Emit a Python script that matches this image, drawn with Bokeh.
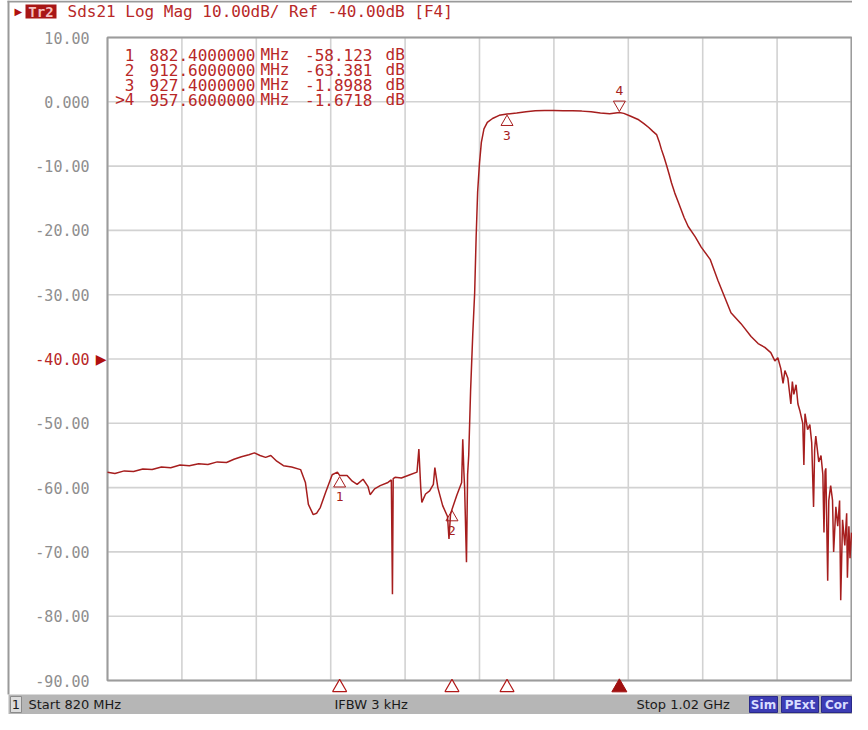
import math
from bokeh.plotting import figure
from bokeh.models import Range1d, ColumnDataSource
from bokeh.core.properties import value
from bokeh.embed import file_html
from bokeh.resources import INLINE

# ---------------- data ----------------
freq_mhz = [
    820.0, 822.0, 824.5, 827.0, 829.5, 832.0, 834.5, 837.0, 839.5, 842.0,
    844.5, 847.0, 849.5, 852.0, 854.0, 856.0, 858.0, 859.5, 861.0, 862.5,
    863.9, 865.5, 867.3, 869.5, 871.9, 873.2, 874.0, 875.3, 876.2, 877.2,
    878.6, 880.4, 881.8, 882.4, 884.4, 885.8, 887.1, 888.7, 890.0, 890.6,
    891.8, 893.3, 895.4, 896.3, 896.6, 896.8, 897.3, 899.0, 901.3, 903.2,
    903.7, 904.2, 904.5, 905.5, 906.6, 907.6, 908.0, 908.8, 910.1, 911.4,
    911.8, 912.2, 912.6, 913.9, 915.2, 915.5, 915.8, 916.0, 916.5, 916.8,
    917.1, 917.6, 918.2, 918.7, 919.1, 919.5, 920.0, 920.5, 921.2, 922.1,
    923.5, 925.3, 927.4, 930.0, 932.5, 935.0, 937.5, 940.0, 942.5, 945.0,
    947.5, 950.0, 952.5, 955.0, 957.6, 958.8, 960.5, 962.8, 964.2, 965.5,
    966.6, 967.6, 968.3, 968.9, 969.6, 970.3, 971.0, 971.6, 972.5, 973.5,
    975.0, 976.1, 978.0, 979.6, 982.0, 984.1, 986.0, 987.6, 990.3, 993.0,
    994.9, 996.7, 998.3, 999.4, 1000.2, 1001.0, 1001.6, 1002.1, 1002.9, 1003.7,
    1004.1, 1004.5, 1005.1, 1005.6, 1006.1, 1006.9, 1007.2, 1007.5, 1008.2, 1008.8,
    1009.3, 1009.8, 1010.1, 1010.4, 1011.2, 1011.8, 1012.3, 1012.6, 1012.9, 1013.1,
    1013.6, 1013.9, 1014.4, 1014.9, 1015.2, 1015.8, 1016.3, 1016.8, 1017.1, 1017.6,
    1018.2, 1018.7, 1018.9, 1019.3, 1019.6, 1020.0,
]
s21_db = [
    -57.6, -57.8, -57.4, -57.5, -57.1, -57.2, -56.8, -56.9, -56.5, -56.6,
    -56.3, -56.4, -56.0, -56.1, -55.6, -55.2, -54.9, -54.6, -55.0, -55.3,
    -55.0, -55.9, -56.6, -56.8, -57.2, -59.2, -62.6, -64.2, -64.0, -63.1,
    -60.8, -58.0, -57.6, -58.1, -58.1, -59.0, -59.5, -58.7, -59.8, -61.1,
    -60.2, -59.7, -59.2, -58.8, -76.6, -58.6, -58.4, -58.5, -58.0, -57.6,
    -54.0, -60.0, -62.3, -61.0, -60.5, -59.5, -56.9, -60.0, -62.8, -64.5,
    -68.0, -64.2, -63.4, -61.2, -59.2, -52.5, -57.5, -60.0, -71.6, -58.0,
    -55.0, -45.0, -36.0, -29.7, -21.0, -14.0, -9.5, -6.3, -4.2, -3.2,
    -2.6, -2.1, -1.90, -1.75, -1.55, -1.40, -1.35, -1.35, -1.40, -1.40,
    -1.45, -1.55, -1.75, -1.85, -1.67, -1.8, -2.2, -2.8, -3.4, -4.0,
    -4.6, -5.1, -6.2, -7.4, -8.6, -9.9, -11.3, -12.6, -14.2, -15.7,
    -18.0, -19.4, -21.0, -22.6, -24.5, -27.8, -30.5, -32.8, -34.5, -36.5,
    -37.6, -38.2, -39.0, -40.3, -39.8, -41.5, -43.8, -41.8, -43.0, -47.0,
    -43.5, -45.5, -44.0, -47.0, -48.0, -50.0, -56.5, -48.5, -51.0, -50.2,
    -53.0, -63.0, -54.0, -52.0, -56.0, -55.0, -58.0, -67.0, -57.5, -57.0,
    -74.5, -62.0, -59.7, -62.0, -70.0, -63.0, -66.0, -62.0, -77.5, -65.0,
    -69.0, -64.0, -74.0, -66.0, -71.0, -67.0,
]

marker_ids = ["1", "2", "3", "4"]
marker_freq = [882.4, 912.6, 927.4, 957.6]
marker_db = [-58.123, -63.381, -1.8988, -1.6718]
active_marker = "4"

y_ticks = [10, 0, -10, -20, -30, -40, -50, -60, -70, -80, -90]
y_tick_labels = ["10.00", "0.000", "-10.00", "-20.00", "-30.00", "-40.00",
                 "-50.00", "-60.00", "-70.00", "-80.00", "-90.00"]
x_grid_ticks = [820, 840, 860, 880, 900, 920, 940, 960, 980, 1000, 1020]
ref_level = -40

trace_name = "Tr2"
header_text = "Sds21 Log Mag 10.00dB/ Ref -40.00dB [F4]"
status_channel = "1"
status_start = "Start 820 MHz"
status_ifbw = "IFBW 3 kHz"
status_stop = "Stop 1.02 GHz"
status_badges = ["Sim", "PExt", "Cor"]

# ---------------- layout (pixel geometry of the analyser screen) ----------------
W, H = 852, 714
FL, FR, FT, FB = 107, 851, 37, 680          # graticule box in canvas pixels
X0, X1 = x_grid_ticks[0], x_grid_ticks[-1]
Y0, Y1 = y_ticks[-1], y_ticks[0]


def xd(px):
    return X0 + (px - FL) * (X1 - X0) / (FR - FL)


def yd(py):
    return Y1 - (py - FT) * (Y1 - Y0) / (FB - FT)


PX_PER_DB = (FB - FT) / (Y1 - Y0)

RED = "#a61e1e"
TXT_RED = "#b82828"
GRID = "#d2d2d2"
BORDER = "#9c9c9c"
MONO = "DejaVu Sans Mono"
SANS = "DejaVu Sans"

p = figure(width=W, height=H, x_range=Range1d(xd(0), xd(W)), y_range=Range1d(yd(H), yd(0)),
           output_backend="svg", toolbar_location=None,
           x_axis_location=None, y_axis_location=None,
           min_border_left=0, min_border_right=0, min_border_top=0, min_border_bottom=0,
           background_fill_color="white", border_fill_color="white")
p.outline_line_color = None
p.xgrid.visible = False
p.ygrid.visible = False


def text(x, y, t, size, color, font=MONO, align="left", baseline="middle", style="normal",
         x_offset=0, y_offset=0):
    p.text(x=[x], y=[y], text=[t], text_font=value(font), text_font_size=value(size),
           text_color=color, text_align=align, text_baseline=baseline,
           text_font_style=style, x_offset=x_offset, y_offset=y_offset)


def box(px0, px1, py0, py1, fill, line=None, lw=1):
    p.quad(left=[xd(px0)], right=[xd(px1)], top=[yd(py0)], bottom=[yd(py1)],
           fill_color=fill, line_color=line, line_width=lw)


# ---------------- graticule ----------------
p.segment(x0=x_grid_ticks, x1=x_grid_ticks, y0=[Y0] * len(x_grid_ticks), y1=[Y1] * len(x_grid_ticks),
          line_color=GRID, line_width=1.6)
p.segment(x0=[X0] * len(y_ticks), x1=[X1] * len(y_ticks), y0=y_ticks, y1=y_ticks,
          line_color=GRID, line_width=1.6)
p.quad(left=[X0], right=[X1], top=[Y1], bottom=[Y0], fill_alpha=0,
       line_color=BORDER, line_width=2)

# y tick labels (reference level in red)
tick_src = ColumnDataSource(dict(
    x=[X0] * len(y_ticks), y=y_ticks, t=y_tick_labels,
    c=[TXT_RED if t == ref_level else "#8e8e8e" for t in y_ticks]))
p.text("x", "y", text="t", source=tick_src, text_color="c", x_offset=-18,
       text_align="right", text_baseline="middle", text_font=value(MONO),
       text_font_size=value("15px"))
text(X0, ref_level, "\u25b6", "14px", "#b01010", font=SANS, align="right", x_offset=-1)

# ---------------- trace ----------------
p.line(freq_mhz, s21_db, line_color=RED, line_width=1.5)

# markers on trace
others = [i for i, m in enumerate(marker_ids) if m != active_marker]
up_src = ColumnDataSource(dict(
    x=[marker_freq[i] for i in others],
    y=[marker_db[i] for i in others],
    ty=[marker_db[i] - 8 / PX_PER_DB for i in others],
    t=[marker_ids[i] for i in others]))
p.scatter("x", "ty", source=up_src, marker="triangle", size=12, fill_alpha=0,
          line_color=RED, line_width=1)
p.text("x", "y", text="t", source=up_src, y_offset=21, text_align="center",
       text_baseline="middle", text_font=value(MONO), text_font_size=value("13px"), text_color=RED)

ai = marker_ids.index(active_marker)
act_src = ColumnDataSource(dict(x=[marker_freq[ai]], y=[marker_db[ai]],
                                ty=[marker_db[ai] + 8 / PX_PER_DB], t=[active_marker]))
p.scatter("x", "ty", source=act_src, marker="inverted_triangle", size=12, fill_alpha=0,
          line_color=RED, line_width=1)
p.text("x", "y", text="t", source=act_src, y_offset=-22, text_align="center",
       text_baseline="middle", text_font=value(MONO), text_font_size=value("13px"), text_color=RED)

# marker readout table
row_py = [54, 69, 84, 99]
for i, (m, f, v) in enumerate(zip(marker_ids, marker_freq, marker_db)):
    y = yd(row_py[i])
    mid = (">" + m) if m == active_marker else m
    vs = f"{v:.3f}" if abs(v) >= 10 else f"{v:.4f}"
    for txt, px, al in ((mid, 134, "right"), (f"{f:.7f}", 255, "right"), ("MHz", 260, "left"),
                        (vs, 372, "right"), ("dB", 385, "left")):
        text(xd(px), y, txt, "16px", TXT_RED, align=al)

# marker position indicators below the graticule
ind_y = yd(687)
p.scatter(x=[marker_freq[i] for i in others], y=[ind_y] * len(others), marker="triangle",
          size=14, fill_color="white", line_color="#b01818", line_width=1.2)
p.scatter(x=[marker_freq[ai]], y=[ind_y], marker="triangle", size=15,
          fill_color="#a01010", line_color="#a01010")

# ---------------- window frame & header ----------------
box(7, W, 0, 2, "#9a9a9a")
box(7, 9, 0, 694, "#9a9a9a")
text(xd(14), yd(11), "\u25b6", "10px", "#b01010", font=SANS)
box(25, 56, 4, 18, "#a81616")
text(xd(40.5), yd(11), trace_name, "14px", "#f6c0c0", align="center", style="bold")
text(xd(67), yd(11), header_text, "16px", TXT_RED)

# ---------------- status bar ----------------
SB_T, SB_B = 694, H
sy = yd((SB_T + SB_B) / 2)
box(8, W, SB_T, SB_B, "#b6b6b6")
box(10, 21, SB_T + 2, SB_B - 2, "#dcdcdc", line="#8a8a8a")
text(xd(15.5), sy, status_channel, "13px", "#1a1a1a", font=SANS, align="center")
text(xd(28), sy, status_start, "13px", "#1a1a1a", font=SANS)
text(xd(334), sy, status_ifbw, "13px", "#1a1a1a", font=SANS)
text(xd(636), sy, status_stop, "13px", "#1a1a1a", font=SANS)
badge_px = [(749, 777), (781, 818), (821, 851)]
for (b0, b1), t in zip(badge_px, status_badges):
    box(b0, b1, SB_T + 2, SB_B - 2, "#3c3cb4", line="#2a2a8a")
    text(xd((b0 + b1) / 2), sy, t, "12px", "#d8dcff", font=SANS, align="center", style="bold")

open("out.html", "w").write(file_html(p, INLINE))
